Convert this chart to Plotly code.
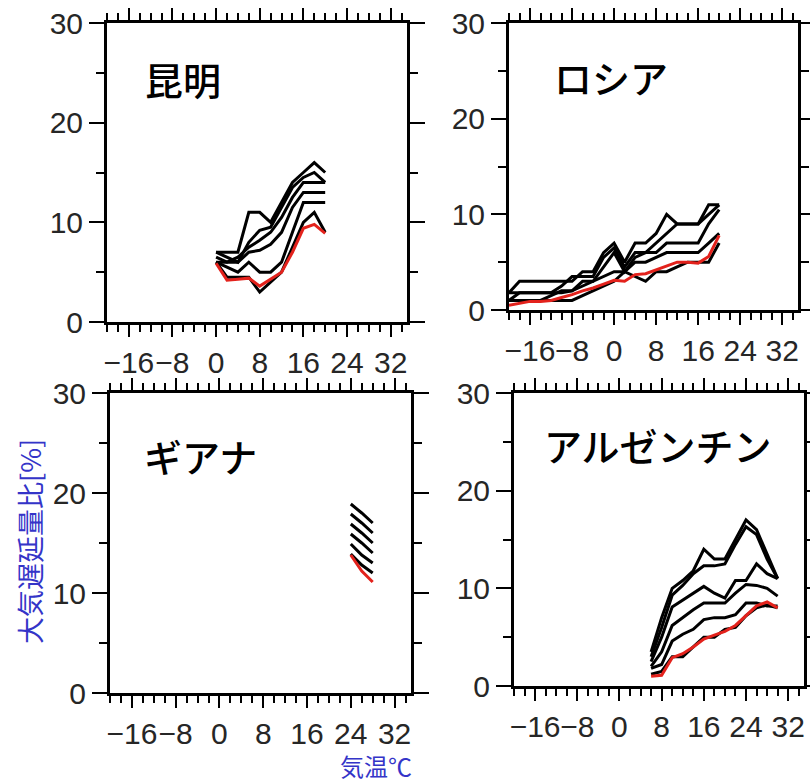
import plotly.graph_objects as go

# ---- 昆明 ----
kunming_temp = [0, 2, 4, 6, 8, 10, 12, 14, 16, 18, 20]
kunming_black = [
    [7.0, 7.0, 7.0, 11.0, 11.0, 10.0, 12.0, 14.0, 15.0, 16.0, 15.0],
    [7.0, 6.5, 6.0, 8.0, 9.2, 9.5, 11.5, 13.5, 14.5, 15.0, 14.0],
    [6.5, 6.0, 6.5, 7.5, 8.2, 9.0, 10.5, 12.5, 14.0, 14.0, 14.0],
    [6.0, 6.0, 6.0, 7.0, 7.2, 7.8, 9.0, 11.5, 13.0, 13.0, 13.0],
    [6.0, 5.5, 5.0, 6.0, 5.0, 5.0, 6.0, 9.0, 12.0, 12.0, 12.0],
    [6.0, 4.5, 4.5, 4.5, 3.0, 4.0, 5.0, 7.5, 10.0, 11.0, 9.0],
]
kunming_red = [5.9, 4.2, 4.3, 4.4, 3.6, 4.3, 5.0, 7.0, 9.4, 9.8, 8.9]

# ---- ロシア ----
russia_temp = [-20, -18, -16, -14, -12, -10, -8, -6, -4, -2, 0,
               2, 4, 6, 8, 10, 12, 14, 16, 18, 20]
russia_black = [
    [1.8, 3.0, 3.0, 3.0, 3.0, 3.0, 3.0, 4.0, 4.0, 6.0, 7.0,
     5.0, 7.0, 7.0, 8.0, 10.0, 9.0, 9.0, 9.0, 11.0, 11.0],
    [1.8, 1.8, 1.8, 1.8, 1.8, 2.5, 3.5, 3.5, 3.5, 5.5, 6.5,
     4.5, 6.0, 6.0, 7.0, 8.0, 9.0, 9.0, 9.0, 10.0, 11.0],
    [1.0, 1.8, 1.8, 1.8, 1.8, 1.8, 2.0, 3.0, 3.0, 4.5, 6.0,
     4.0, 5.5, 6.0, 6.0, 7.0, 7.0, 7.0, 7.0, 9.0, 10.5],
    [1.0, 1.0, 1.0, 1.0, 1.5, 2.0, 2.0, 2.5, 3.0, 3.5, 4.0,
     4.0, 5.0, 5.0, 5.5, 6.0, 6.0, 6.0, 6.0, 7.0, 8.0],
    [1.0, 1.0, 1.0, 1.0, 1.0, 1.0, 1.0, 1.5, 2.0, 2.5, 3.0,
     4.0, 3.5, 3.0, 4.0, 4.0, 4.5, 5.0, 5.0, 5.0, 7.0],
]
russia_red = [0.5, 0.7, 0.9, 0.9, 1.0, 1.3, 1.6, 2.0, 2.3, 2.7, 3.1,
              3.0, 3.7, 3.8, 4.2, 4.6, 5.0, 5.0, 4.9, 5.6, 7.8]

# ---- ギアナ ----
guyana_temp = [24, 26, 28]
guyana_black = [
    [18.9, 18.0, 17.0],
    [17.9, 17.0, 16.0],
    [16.9, 16.0, 15.0],
    [15.9, 15.0, 14.0],
    [14.9, 13.8, 13.0],
    [13.9, 12.8, 12.0],
]
guyana_red = [13.8, 12.2, 11.1]

# ---- アルゼンチン ----
argentina_temp = [6, 8, 10, 12, 14, 16, 18, 20, 22, 24, 26, 28, 30]
argentina_black = [
    [3.5, 7.0, 10.0, 10.8, 11.8, 14.0, 13.0, 13.0, 15.0, 17.0, 16.0, 13.5, 11.0],
    [3.0, 6.0, 9.3, 10.3, 11.5, 12.3, 12.3, 12.5, 14.5, 16.3, 15.5, 13.0, 11.0],
    [2.5, 5.0, 8.1, 8.8, 9.5, 10.2, 9.5, 9.0, 10.8, 10.8, 12.5, 11.5, 11.0],
    [2.0, 3.5, 6.2, 7.0, 7.8, 8.5, 8.5, 8.5, 9.5, 10.4, 10.3, 10.0, 9.2],
    [1.8, 2.2, 4.6, 5.3, 5.8, 6.8, 7.0, 7.0, 7.3, 8.5, 8.5, 8.2, 8.2],
    [1.2, 1.5, 3.0, 3.0, 4.0, 5.0, 5.0, 5.8, 6.0, 7.2, 8.0, 8.3, 8.0],
]
argentina_red = [1.0, 1.1, 2.9, 3.3, 4.0, 4.8, 5.2, 5.6, 6.2, 7.2, 8.2, 8.6, 8.0]

panel_names = ["昆明", "ロシア", "ギアナ", "アルゼンチン"]
x_tick_values = [-16, -8, 0, 8, 16, 24, 32]
y_tick_values = [0, 10, 20, 30]

W, H = 810, 783

# panel frames in pixels: (left, right, top, bottom)
frames = [
    (107, 407, 23, 322),
    (509, 798, 23, 310),
    (110, 411, 393, 693),
    (514, 804, 393, 686),
]
# label anchor inside each panel (fraction of the panel)
label_pos = [(0.12, 0.816), (0.149, 0.812), (0.106, 0.793), (0.097, 0.823)]

panels = [
    (kunming_temp, kunming_black, kunming_red),
    (russia_temp, russia_black, russia_red),
    (guyana_temp, guyana_black, guyana_red),
    (argentina_temp, argentina_black, argentina_red),
]

fig = go.Figure()
LINE_W = 3
RED = "#e3221c"

for i, (xs, blacks, red) in enumerate(panels):
    sfx = "" if i == 0 else str(i + 1)
    for ys in blacks:
        fig.add_trace(go.Scatter(x=xs, y=ys, mode="lines",
                                 line=dict(color="black", width=LINE_W),
                                 xaxis="x" + sfx, yaxis="y" + sfx,
                                 showlegend=False, hoverinfo="skip"))
    fig.add_trace(go.Scatter(x=xs, y=red, mode="lines",
                             line=dict(color=RED, width=LINE_W),
                             xaxis="x" + sfx, yaxis="y" + sfx,
                             showlegend=False, hoverinfo="skip"))

tick_font = dict(family="Liberation Sans, Arial, sans-serif", size=30, color="#262626")
cjk = "Noto Sans CJK JP, sans-serif"

layout = dict(
    width=W, height=H,
    margin=dict(l=0, r=0, t=0, b=0, autoexpand=False),
    paper_bgcolor="white", plot_bgcolor="white",
    showlegend=False,
)

annotations = []
for i, (l, r, t, b) in enumerate(frames):
    sfx = "" if i == 0 else str(i + 1)
    xd = [l / W, r / W]
    yd = [1 - b / H, 1 - t / H]
    layout["xaxis" + sfx] = dict(
        domain=xd, anchor="y" + sfx, range=[-20, 35], automargin=False,
        tickmode="array", tickvals=x_tick_values,
        ticks="outside", ticklen=12, tickwidth=2, tickcolor="black",
        minor=dict(dtick=2, tick0=0, ticks="outside", ticklen=7,
                   tickwidth=1.5, tickcolor="black"),
        showline=True, linewidth=3, linecolor="black", mirror="all",
        showgrid=False, zeroline=False, tickangle=0,
        tickfont=tick_font, fixedrange=True,
    )
    layout["yaxis" + sfx] = dict(
        domain=yd, anchor="x" + sfx, range=[0, 30], automargin=False,
        tickmode="array", tickvals=y_tick_values,
        ticks="outside", ticklen=15, tickwidth=2, tickcolor="black",
        minor=dict(dtick=5, tick0=0, ticks="outside", ticklen=8,
                   tickwidth=1.5, tickcolor="black"),
        showline=True, linewidth=3, linecolor="black", mirror="all",
        showgrid=False, zeroline=False,
        tickfont=tick_font, fixedrange=True,
    )
    fx, fy = label_pos[i]
    annotations.append(dict(
        text=panel_names[i], xref="x" + sfx + " domain", yref="y" + sfx + " domain",
        x=fx, y=fy, xanchor="left", yanchor="middle", showarrow=False,
        font=dict(family=cjk, size=38, color="black", weight=500),
    ))

# shared axis titles
annotations.append(dict(
    text="大気遅延量比[%]", xref="paper", yref="paper",
    x=29 / W, y=1 - 542 / H, textangle=-90, showarrow=False,
    xanchor="center", yanchor="middle",
    font=dict(family=cjk, size=27, color="#3434c8"),
))
annotations.append(dict(
    text="気温℃", xref="paper", yref="paper",
    x=376 / W, y=1 - 765 / H, showarrow=False, borderpad=0,
    xanchor="center", yanchor="middle",
    font=dict(family=cjk, size=24, color="#3434c8"),
))
layout["annotations"] = annotations

fig.update_layout(**layout)
fig.write_html("out.html")
